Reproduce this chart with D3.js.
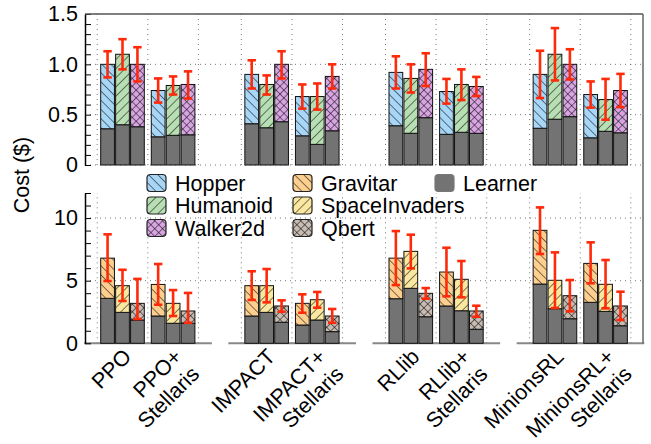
<!DOCTYPE html>
<html>
<head>
<meta charset="utf-8">
<script src="https://cdn.jsdelivr.net/npm/d3@7"></script>
<style>
  body { margin: 0; background: #fff; }
  svg { font-family: "Liberation Sans", Arial, Helvetica, sans-serif; }
</style>
</head>
<body>
<svg id="chart"></svg>
<script>
// Data
const systems = ["PPO", "IMPACT", "RLlib", "MinionsRL"];
const variants = ["base", "stellaris"];
const groupLabels = [
    ["PPO"], ["PPO+", "Stellaris"],
    ["IMPACT"], ["IMPACT+", "Stellaris"],
    ["RLlib"], ["RLlib+", "Stellaris"],
    ["MinionsRL"], ["MinionsRL+", "Stellaris"]
];
const mujocoTasks = ["Hopper", "Humanoid", "Walker2d"];
const atariTasks = ["Gravitar", "SpaceInvaders", "Qbert"];

// one row per group (system x variant), one value per task
const mujocoLearner = [
    [0.36, 0.40, 0.38], [0.28, 0.295, 0.30],
    [0.41, 0.37, 0.43], [0.29, 0.205, 0.34],
    [0.39, 0.315, 0.47], [0.305, 0.325, 0.315],
    [0.365, 0.455, 0.48], [0.27, 0.335, 0.32]
];
const mujocoTotal = [
    [1.00, 1.10, 1.00], [0.74, 0.79, 0.80],
    [0.90, 0.80, 1.00], [0.68, 0.68, 0.88],
    [0.92, 0.86, 0.95], [0.73, 0.80, 0.78],
    [0.90, 1.10, 1.00], [0.70, 0.65, 0.74]
];
const mujocoErrLo = [
    [0.87, 0.95, 0.83], [0.62, 0.70, 0.66],
    [0.76, 0.70, 0.86], [0.56, 0.55, 0.76],
    [0.76, 0.72, 0.785], [0.61, 0.645, 0.685],
    [0.665, 0.84, 0.85], [0.57, 0.45, 0.575]
];
const mujocoErrHi = [
    [1.13, 1.25, 1.17], [0.86, 0.88, 0.93],
    [1.04, 0.89, 1.13], [0.80, 0.81, 1.00],
    [1.08, 1.00, 1.11], [0.855, 0.95, 0.875],
    [1.135, 1.36, 1.15], [0.83, 0.855, 0.905]
];

const atariLearner = [
    [3.59, 2.47, 1.86], [2.18, 1.60, 1.60],
    [2.18, 2.47, 1.68], [1.46, 1.86, 0.93],
    [3.56, 4.39, 2.12], [2.98, 2.60, 1.12],
    [4.73, 2.76, 1.96], [3.27, 2.55, 1.40]
];
const atariTotal = [
    [6.80, 4.60, 3.19], [4.70, 3.19, 2.58],
    [4.60, 4.60, 2.98], [3.19, 3.48, 2.18],
    [6.80, 7.34, 3.99], [5.69, 5.11, 2.58],
    [9.02, 5.03, 3.80], [6.38, 4.71, 2.98]
];
const atariErrLo = [
    [4.97, 3.38, 1.94], [3.08, 2.18, 1.64],
    [3.46, 3.27, 2.52], [2.44, 2.84, 1.64],
    [4.65, 5.98, 3.56], [3.75, 3.67, 2.12],
    [7.13, 2.82, 2.55], [4.79, 2.79, 1.86]
];
const atariErrHi = [
    [8.70, 5.87, 5.14], [6.33, 4.25, 4.02],
    [5.75, 5.93, 3.43], [3.91, 4.10, 2.74],
    [8.96, 8.67, 4.41], [7.63, 6.57, 3.00],
    [10.85, 7.26, 5.05], [8.06, 6.65, 4.12]
];

const topTicks = [0, 0.5, 1.0, 1.5];
const bottomTicks = [0, 5, 10];

// Set dimensions
const width = 651, height = 444;
const axisX = 85, rightX = 643;
const fontSize = "21.5px";

const colors = {
    Hopper: "#a7d6f7", Humanoid: "#b7dfb3", Walker2d: "#d8a5e2",
    Gravitar: "#fdcf8f", SpaceInvaders: "#fbe8a0", Qbert: "#c8bcb3",
    Learner: "#737373"
};
const hatch = {
    Hopper: "back", Humanoid: "fwd", Walker2d: "cross",
    Gravitar: "back", SpaceInvaders: "fwd", Qbert: "cross"
};

const svg = d3.select("#chart").attr("width", width).attr("height", height);

// Patterns
const defs = svg.append("defs");
Object.keys(hatch).forEach(task => {
    const kind = hatch[task];
    const s = kind === "cross" ? 5.5 : 6.5;
    const p = defs.append("pattern")
        .attr("id", "pat-" + task)
        .attr("patternUnits", "userSpaceOnUse")
        .attr("width", s).attr("height", s)
        .attr("patternTransform", kind === "back" ? "rotate(-45)" : "rotate(45)");
    p.append("rect").attr("width", s).attr("height", s).attr("fill", colors[task]);
    p.append("line").attr("x1", 0).attr("y1", 0).attr("x2", 0).attr("y2", s)
        .attr("stroke", "#111").attr("stroke-width", 1.1);
    if (kind === "cross") {
        p.append("line").attr("x1", 0).attr("y1", 0).attr("x2", s).attr("y2", 0)
            .attr("stroke", "#111").attr("stroke-width", 1.1);
    }
});

// Scales
const xSys = d3.scaleBand().domain(systems).range([75.7, 652.3]);
const xVar = d3.scaleBand().domain(variants).range([21.5, 122.7]);
const xTask = d3.scaleBand().domain([0, 1, 2]).range([-21.8, 21.8]).paddingInner(0.08);

const groupCenter = i => xSys(systems[Math.floor(i / 2)]) + xVar(variants[i % 2]) + xVar.bandwidth() / 2;

const yTop = d3.scaleLinear().domain([0, 1.5]).range([165, 14]);
const yBot = d3.scaleLinear().domain([0, 12]).range([343.3, 193]);

function drawPanel(y, tasks, learner, total, errLo, errHi, minorTicks, labelTicks, fmt, top) {
    const g = svg.append("g");
    const [y0, y1] = y.range();

    // horizontal grid
    const gridVals = top ? [0, 0.5, 1.0] : [5, 10];
    g.selectAll(".hgrid").data(gridVals).enter().append("line")
        .attr("x1", axisX).attr("x2", rightX)
        .attr("y1", d => y(d)).attr("y2", d => y(d))
        .attr("stroke", "#777").attr("stroke-width", 1)
        .attr("stroke-dasharray", "1,4");

    // vertical grid at group edges
    systems.forEach(s => {
        const edges = [xVar.range()[0], xVar.range()[0] + xVar.step(), xVar.range()[1]];
        g.selectAll(null).data(edges).enter().append("line")
            .attr("x1", d => xSys(s) + d).attr("x2", d => xSys(s) + d)
            .attr("y1", y0).attr("y2", y1)
            .attr("stroke", "#777").attr("stroke-width", 1)
            .attr("stroke-dasharray", "1,4");
    });

    // baseline segments (bottom panel)
    if (!top) {
        g.selectAll(".base").data(systems).enter().append("line")
            .attr("x1", d => xSys(d) + 8.5).attr("x2", d => xSys(d) + xSys.bandwidth() - 8)
            .attr("y1", y0).attr("y2", y0)
            .attr("stroke", "#888").attr("stroke-width", 2);
    }

    // bars
    const rows = [];
    learner.forEach((row, gi) => row.forEach((v, ti) => rows.push({
        gi, ti, task: tasks[ti], learner: v, total: total[gi][ti], lo: errLo[gi][ti], hi: errHi[gi][ti]
    })));
    const bx = d => groupCenter(d.gi) + xTask(d.ti);

    g.selectAll(".learner").data(rows).enter().append("rect")
        .attr("x", bx).attr("width", xTask.bandwidth())
        .attr("y", d => y(d.learner)).attr("height", d => y(0) - y(d.learner))
        .attr("fill", colors.Learner).attr("stroke", "#111").attr("stroke-width", 1);

    g.selectAll(".env").data(rows).enter().append("rect")
        .attr("x", bx).attr("width", xTask.bandwidth())
        .attr("y", d => y(d.total)).attr("height", d => y(d.learner) - y(d.total))
        .attr("fill", d => `url(#pat-${d.task})`).attr("stroke", "#111").attr("stroke-width", 1);

    // error bars
    const ex = d => bx(d) + xTask.bandwidth() / 2;
    const err = g.selectAll(".err").data(rows).enter().append("g").attr("stroke", "#ff2a0a").attr("stroke-width", 2.6);
    err.append("line").attr("x1", ex).attr("x2", ex).attr("y1", d => y(d.lo)).attr("y2", d => y(d.hi));
    err.append("line").attr("x1", d => ex(d) - 4.2).attr("x2", d => ex(d) + 4.2).attr("y1", d => y(d.lo)).attr("y2", d => y(d.lo));
    err.append("line").attr("x1", d => ex(d) - 4.2).attr("x2", d => ex(d) + 4.2).attr("y1", d => y(d.hi)).attr("y2", d => y(d.hi));

    // y axis: inward ticks + labels
    const ax = svg.append("g").attr("transform", `translate(${axisX},0)`)
        .call(d3.axisRight(y).tickValues(minorTicks).tickSize(6).tickSizeOuter(0).tickFormat(""));
    ax.select(".domain").attr("stroke", "#000").attr("stroke-width", 1.5);
    ax.selectAll(".tick line").attr("stroke", "#000").attr("stroke-width", 1);

    const lab = svg.append("g").attr("transform", `translate(${axisX},0)`)
        .call(d3.axisLeft(y).tickValues(labelTicks).tickSize(0).tickPadding(7).tickFormat(fmt));
    lab.select(".domain").remove();
    lab.selectAll("text").attr("font-size", fontSize).attr("fill", "#000")
        .attr("font-family", "Liberation Sans, Arial, sans-serif");
}

drawPanel(yTop, mujocoTasks, mujocoLearner, mujocoTotal, mujocoErrLo, mujocoErrHi,
    d3.range(0, 1.51, 0.1), topTicks, d => d === 0 ? "0" : d.toFixed(1), true);
drawPanel(yBot, atariTasks, atariLearner, atariTotal, atariErrLo, atariErrHi,
    d3.range(0, 12.01, 1), bottomTicks, d => String(d), false);

// frame: top border and right border
svg.append("line").attr("x1", axisX).attr("x2", rightX).attr("y1", yTop(1.5)).attr("y2", yTop(1.5))
    .attr("stroke", "#555").attr("stroke-width", 1.5);
svg.append("line").attr("x1", rightX).attr("x2", rightX).attr("y1", yTop(1.5)).attr("y2", yBot(0))
    .attr("stroke", "#666").attr("stroke-width", 1.5);

// Y label
svg.append("text")
    .attr("transform", "rotate(-90)")
    .attr("x", -175).attr("y", 29)
    .attr("text-anchor", "middle")
    .style("font-size", fontSize)
    .text("Cost ($)");

// X labels
groupLabels.forEach((lines, i) => {
    const t = svg.append("text")
        .attr("transform", `translate(${groupCenter(i) + 10},358) rotate(-45)`)
        .attr("text-anchor", "end")
        .style("font-size", fontSize);
    lines.forEach((l, k) => t.append("tspan").attr("x", 0).attr("dy", k === 0 ? 0 : "1.15em").text(l));
});

// Legend
const legendItems = [
    { name: "Hopper", col: 0, row: 0 }, { name: "Humanoid", col: 0, row: 1 }, { name: "Walker2d", col: 0, row: 2 },
    { name: "Gravitar", col: 1, row: 0 }, { name: "SpaceInvaders", col: 1, row: 1 }, { name: "Qbert", col: 1, row: 2 },
    { name: "Learner", col: 2, row: 0 }
];
const legX = d3.scaleOrdinal().domain([0, 1, 2]).range([147, 293, 435]);
const legY = d3.scaleLinear().domain([0, 2]).range([183, 228]);
const leg = svg.selectAll(".leg").data(legendItems).enter().append("g")
    .attr("transform", d => `translate(${legX(d.col)},${legY(d.row)})`);
leg.append("rect").attr("x", 0).attr("y", -8.5).attr("width", 19).attr("height", 17).attr("rx", 3.5)
    .attr("fill", d => d.name === "Learner" ? colors.Learner : `url(#pat-${d.name})`)
    .attr("stroke", d => d.name === "Learner" ? "#777" : "#222").attr("stroke-width", 1.2);
leg.append("text").attr("x", 28).attr("y", 0).attr("dy", "0.36em")
    .style("font-size", fontSize).text(d => d.name);
</script>
</body>
</html>
